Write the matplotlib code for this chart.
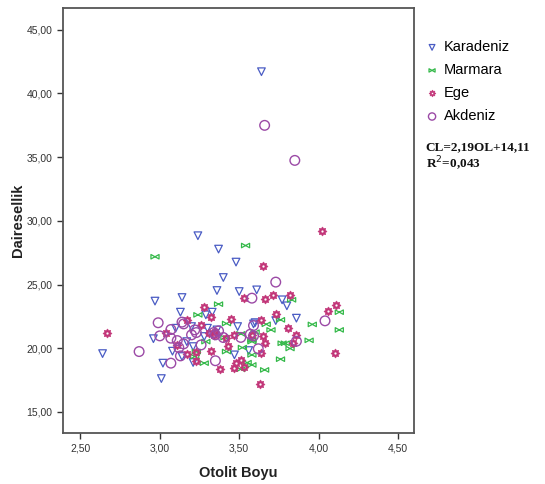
import numpy as np
import matplotlib
matplotlib.use("Agg")
import matplotlib.pyplot as plt
from matplotlib.path import Path
from matplotlib.ticker import FuncFormatter

plt.rcParams['font.family'] = ['Liberation Sans', 'DejaVu Sans']

# data
kara_x = [3.64, 3.24, 3.37, 3.48, 3.40, 3.36, 3.50, 3.61, 2.97, 3.14, 3.77, 3.80,
          3.13, 3.29, 3.33, 3.86, 3.73, 3.60, 3.49, 3.20, 3.10, 3.30, 2.96, 3.17,
          3.28, 2.64, 3.08, 3.14, 3.21, 3.02, 3.01, 3.47, 3.56, 3.21, 3.59, 3.36]
kara_y = [41.70, 28.83, 27.78, 26.76, 25.55, 24.53, 24.45, 24.58, 23.70, 23.98, 23.80, 23.33,
          22.83, 22.62, 22.83, 22.36, 22.17, 22.01, 21.70, 21.70, 21.57, 21.57, 20.75, 20.52,
          20.92, 19.58, 19.77, 19.35, 18.88, 18.83, 17.62, 19.48, 19.82, 20.13, 21.91, 21.44]

marm_x = [2.97, 3.54, 3.37, 3.24, 3.83, 4.13, 3.76, 3.96, 4.13, 3.42, 3.67, 3.70,
          3.60, 3.51, 3.94, 3.77, 3.79, 3.82, 3.52, 3.58, 3.42, 3.23, 3.22, 3.58,
          3.76, 3.66, 3.55, 3.58, 3.51, 3.28, 3.29, 3.41, 3.58]
marm_y = [27.18, 28.06, 23.46, 22.62, 23.80, 22.83, 22.23, 21.87, 21.44, 21.94, 21.88, 21.44,
          21.26, 21.13, 20.62, 20.39, 20.39, 19.98, 20.05, 20.52, 19.74, 19.74, 19.35, 19.48,
          19.14, 18.30, 18.87, 18.69, 18.35, 18.83, 20.52, 20.84, 20.65]

ege_x = [4.02, 3.65, 3.28, 3.71, 3.82, 3.53, 3.66, 4.11, 4.06, 3.73, 3.45, 3.64,
         3.17, 2.67, 3.26, 3.81, 3.04, 3.35, 3.47, 3.65, 3.86, 3.84, 3.66, 3.11,
         3.43, 3.64, 4.10, 3.17, 3.23, 3.32, 3.23, 3.51, 3.48, 3.53, 3.47, 3.38,
         3.63, 3.31, 3.32, 3.34, 3.42, 3.58]
ege_y = [29.20, 26.47, 23.27, 24.14, 24.14, 23.98, 23.88, 23.42, 22.95, 22.65, 22.28, 22.23,
         22.23, 21.20, 21.80, 21.62, 21.23, 21.31, 21.05, 20.97, 21.05, 20.45, 20.44, 20.26,
         20.15, 19.61, 19.65, 19.58, 19.71, 19.79, 19.00, 19.08, 18.85, 18.50, 18.45, 18.40,
         17.20, 21.18, 22.46, 21.05, 20.79, 21.00]

akd_x = [3.66, 3.85, 3.73, 3.58, 4.04, 2.99, 3.14, 3.07, 3.15, 3.00, 3.07, 3.11,
         3.22, 3.20, 3.35, 3.40, 3.51, 3.59, 3.57, 3.59, 3.86, 3.62, 2.87, 3.12,
         3.15, 3.13, 3.07, 3.35, 3.26, 3.34, 3.37, 3.23]
akd_y = [37.49, 34.74, 25.19, 23.93, 22.15, 22.00, 22.05, 21.47, 21.91, 20.97, 20.79, 20.60,
         21.44, 21.05, 21.05, 20.84, 20.85, 20.97, 21.10, 21.78, 20.55, 19.96, 19.74, 20.05,
         20.34, 19.40, 18.83, 19.02, 20.26, 21.23, 21.36, 21.23]

groups = ['Karadeniz', 'Marmara', 'Ege', 'Akdeniz']

# bowtie marker for Marmara
bow = Path([(-1, -0.55), (-1, 0.55), (0, 0), (-1, -0.55),
            (1, -0.55), (1, 0.55), (0, 0), (1, -0.55)],
           [Path.MOVETO, Path.LINETO, Path.LINETO, Path.CLOSEPOLY] * 2)

# sun / flower marker for Ege (star with a hole)
n = 8
ang = np.linspace(0, 2 * np.pi, 2 * n, endpoint=False)
rad = np.where(np.arange(2 * n) % 2 == 0, 1.0, 0.7)
outer = np.column_stack([rad * np.cos(ang), rad * np.sin(ang)])
hang = np.linspace(0, -2 * np.pi, 12, endpoint=False)
inner = np.column_stack([0.33 * np.cos(hang), 0.33 * np.sin(hang)])
verts = np.vstack([outer, outer[:1], inner, inner[:1]])
codes = ([Path.MOVETO] + [Path.LINETO] * (len(outer) - 1) + [Path.CLOSEPOLY]
         + [Path.MOVETO] + [Path.LINETO] * (len(inner) - 1) + [Path.CLOSEPOLY])
sun = Path(verts, codes)

fig = plt.figure(figsize=(5.45, 4.84), dpi=100)
ax = fig.add_axes([0.1156, 0.1054, 0.6440, 0.8781])

ax.scatter(kara_x, kara_y, marker='v', s=30, facecolors='none',
           edgecolors='#4a5cc4', linewidths=0.9, label=groups[0])
ax.scatter(marm_x, marm_y, marker=bow, s=34, facecolors='none',
           edgecolors='#35b94a', linewidths=0.9, label=groups[1])
ax.scatter(ege_x, ege_y, marker=sun, s=42, facecolors='#c23578',
           edgecolors='#c23578', linewidths=0.4, label=groups[2])
ax.scatter(akd_x, akd_y, marker='o', s=48, facecolors='none',
           edgecolors='#9b4aa6', linewidths=1.0, label=groups[3])

ax.set_xlim(2.391, 4.60)
ax.set_ylim(13.35, 46.7)
ax.set_xticks([2.5, 3.0, 3.5, 4.0, 4.5])
ax.set_yticks([15, 20, 25, 30, 35, 40, 45])
fmt = FuncFormatter(lambda v, p: f"{v:.2f}".replace('.', ','))
ax.xaxis.set_major_formatter(fmt)
ax.yaxis.set_major_formatter(fmt)
ax.tick_params(labelsize=7.5, colors='#333333', length=4, width=1.0, direction='out')
for s in ax.spines.values():
    s.set_color('#555555')
    s.set_linewidth(1.3)

ax.set_xlabel('Otolit Boyu', fontsize=10.5, fontweight='bold', color='#222222', labelpad=9)
ax.set_ylabel('Dairesellik', fontsize=10.5, fontweight='bold', color='#222222', labelpad=1)

leg = fig.legend(loc='upper left', bbox_to_anchor=(0.766, 0.932), frameon=False,
                 fontsize=10.5, handletextpad=0.3, labelspacing=0.62,
                 handlelength=1.0, borderpad=0, markerscale=0.75)

fig.text(0.781, 0.695, 'CL=2,19OL+14,11', family=['Liberation Serif', 'DejaVu Serif'],
         fontsize=9.5, fontweight='bold', color='#111111', va='center')
fig.text(0.781, 0.661, 'R$^2$=0,043', family=['Liberation Serif', 'DejaVu Serif'],
         fontsize=9.5, fontweight='bold', color='#111111', va='center')

fig.savefig('out.png', dpi=100)
